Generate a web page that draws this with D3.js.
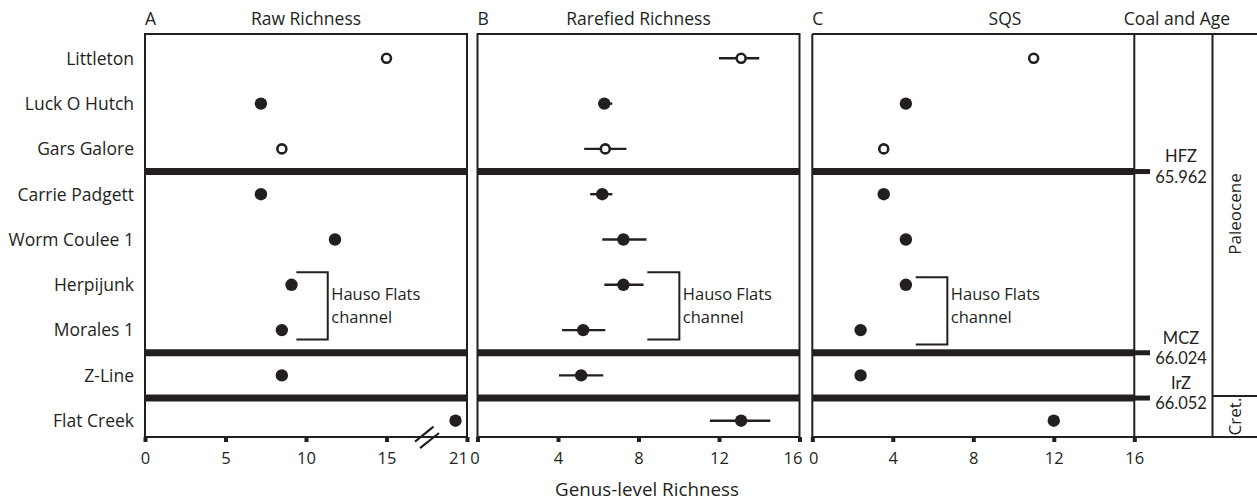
<!DOCTYPE html>
<html>
<head>
<meta charset="utf-8">
<script src="https://cdn.jsdelivr.net/npm/d3@7"></script>
<style>
  html, body { margin: 0; padding: 0; background: #fff; }
  svg { display: block; font-family: "Open Sans", sans-serif; }
</style>
</head>
<body>
<svg id="chart" width="1257" height="500"></svg>
<script>
// Localities, top (youngest) to bottom (oldest)
const sites = ["Littleton", "Luck O Hutch", "Gars Galore", "Carrie Padgett", "Worm Coulee 1",
               "Herpijunk", "Morales 1", "Z-Line", "Flat Creek"];
// Localities drawn with open symbols
const openSites = ["Littleton", "Gars Galore"];

// Genus-level richness per locality
const rawRichness   = [15, 7.2, 8.5, 7.2, 11.8, 9.1, 8.5, 8.5, 20];
const rarefiedMean  = [13.1, 6.3, 6.35, 6.2, 7.25, 7.25, 5.25, 5.15, 13.1];
const rarefiedLow   = [12.0, 6.0, 5.3, 5.6, 6.2, 6.3, 4.2, 4.05, 11.55];
const rarefiedHigh  = [14.0, 6.7, 7.4, 6.7, 8.4, 8.25, 6.35, 6.25, 14.55];
const sqsRichness   = [11.0, 4.65, 3.55, 3.55, 4.65, 4.65, 2.4, 2.4, 12.0];

// Axis ticks
const rawTicks  = [0, 5, 10, 15, 21];
const richTicks = [0, 4, 8, 12, 16];

// Coal zones (each lies just below the named locality) and their ages (Ma)
const zoneNames = ["HFZ", "MCZ", "IrZ"];
const zoneAges  = ["65.962", "66.024", "66.052"];
const zoneBelow = ["Gars Galore", "Morales 1", "Z-Line"];

// Epochs, split at the IrZ
const epochs = ["Paleocene", "Cret."];

// Hauso Flats channel bracket (localities grouped)
const channelSites = ["Herpijunk", "Morales 1"];
const channelLabel = ["Hauso Flats", "channel"];

const ink = "#231f20";
const svg = d3.select("#chart");
const frameTop = 34, frameBottom = 437;

const y = d3.scalePoint().domain(sites).range([58.3, 420.7]);
const sepY = zoneBelow.map(s => {
  const i = sites.indexOf(s);
  return (y(sites[i]) + y(sites[i + 1])) / 2;
});

// Raw axis is broken between 15 and 21
const uA = (467 - 145) / 20;
const xA = d3.scaleLinear().domain([0, 17.5, 21]).range([145, 145 + 17.5 * uA, 145 + 20 * uA]);
const xB = d3.scaleLinear().domain([0, 16]).range([477.5, 799.5]);
const xC = d3.scaleLinear().domain([0, 16]).range([812.3, 1134.3]);
const coalRight = 1212.5, figRight = 1258;

function frame(x0, x1) {
  svg.append("rect")
    .attr("x", x0).attr("y", frameTop).attr("width", x1 - x0).attr("height", frameBottom - frameTop)
    .attr("fill", "none").attr("stroke", ink).attr("stroke-width", 2);
}
function separators(x0, x1) {
  sepY.forEach(sy => {
    svg.append("line").attr("x1", x0).attr("x2", x1).attr("y1", sy).attr("y2", sy)
      .attr("stroke", ink).attr("stroke-width", 7);
  });
}
// shift: horizontal nudge for each tick label so edge labels clear the neighbouring panel
function axis(scale, ticks, shift) {
  const g = svg.append("g").attr("transform", `translate(0,${frameBottom})`)
    .call(d3.axisBottom(scale).tickValues(ticks).tickSize(5).tickSizeOuter(0).tickPadding(10));
  g.select(".domain").remove();
  g.selectAll(".tick line").attr("stroke", ink).attr("stroke-width", 4);
  g.selectAll(".tick text").attr("fill", ink).attr("font-size", 16.5)
    .attr("font-family", "'Open Sans', sans-serif")
    .attr("dx", (d, i) => shift ? shift[i] : 0);
  return g;
}
function markers(scale, values) {
  const g = svg.append("g");
  sites.forEach((s, i) => {
    const open = openSites.includes(s);
    g.append("circle")
      .attr("cx", scale(values[i])).attr("cy", y(s))
      .attr("r", open ? 4.5 : 6.2)
      .attr("fill", open ? "#fff" : ink)
      .attr("stroke", ink).attr("stroke-width", open ? 2.6 : 0);
  });
}
function bracket(scale, x0, x1, dy) {
  const yt = y(channelSites[0]) - 12.5 + dy, yb = y(channelSites[1]) + 9.3 + dy;
  const a = scale(x0), b = scale(x1);
  svg.append("path")
    .attr("d", `M${a},${yt}H${b}V${yb}H${a}`)
    .attr("fill", "none").attr("stroke", ink).attr("stroke-width", 2);
  const t = svg.append("text").attr("fill", ink).attr("font-size", 16.5);
  channelLabel.forEach((line, i) => {
    t.append("tspan").attr("x", b + 3.5).attr("y", 300 + i * 23).text(line);
  });
}
function title(letter, x0, name, cx) {
  svg.append("text").attr("x", x0).attr("y", 25).attr("fill", ink).attr("font-size", 17.5).text(letter);
  svg.append("text").attr("x", cx).attr("y", 25).attr("text-anchor", "middle")
    .attr("fill", ink).attr("font-size", 17.5).text(name);
}

// Panel A: raw richness
frame(xA(0), xA(21));
separators(xA(0), xA(21));
axis(xA, rawTicks, [0, 0, 0, 0, -9]);
markers(xA, rawRichness);
bracket(xA, 9.4, 11.35, 0);
title("A", xA(0), "Raw Richness", (xA(0) + xA(21)) / 2);
// axis break marks
[0, 1].forEach(k => {
  svg.append("line")
    .attr("x1", 415 + k * 5).attr("y1", 441.7 + k * 6.5)
    .attr("x2", 433.5 + k * 5.5).attr("y2", 426.7 + k * 6.3)
    .attr("stroke", ink).attr("stroke-width", 2.2);
});

// Row labels
svg.append("g").selectAll("text").data(sites).join("text")
  .attr("x", 134).attr("y", d => y(d)).attr("dy", "0.36em")
  .attr("text-anchor", "end").attr("fill", ink).attr("font-size", 17.5).text(d => d);

// Panel B: rarefied richness with intervals
frame(xB(0), xB(16));
separators(xB(0), xB(16));
axis(xB, richTicks, [-3, 0, 0, 0, -7]);
svg.append("g").selectAll("line").data(sites).join("line")
  .attr("x1", (d, i) => xB(rarefiedLow[i])).attr("x2", (d, i) => xB(rarefiedHigh[i]))
  .attr("y1", d => y(d)).attr("y2", d => y(d))
  .attr("stroke", ink).attr("stroke-width", 2.4);
markers(xB, rarefiedMean);
bracket(xB, 8.44, 10.03, 0);
title("B", xB(0), "Rarefied Richness", (xB(0) + xB(16)) / 2);

// Panel C: SQS, plus coal and age columns
svg.append("line").attr("x1", xC(0)).attr("x2", figRight).attr("y1", frameTop).attr("y2", frameTop)
  .attr("stroke", ink).attr("stroke-width", 2);
svg.append("line").attr("x1", xC(0)).attr("x2", figRight).attr("y1", frameBottom).attr("y2", frameBottom)
  .attr("stroke", ink).attr("stroke-width", 2);
[xC(0), xC(16), coalRight].forEach(xx => {
  svg.append("line").attr("x1", xx).attr("x2", xx).attr("y1", frameTop).attr("y2", frameBottom)
    .attr("stroke", ink).attr("stroke-width", 2);
});
separators(xC(0), xC(16));
axis(xC, richTicks, [1, 0, 0, 0, 0]);
markers(xC, sqsRichness);
bracket(xC, 5.14, 6.71, 5);
title("C", xC(0), "SQS", 1005);
svg.append("text").attr("x", 1177).attr("y", 25).attr("text-anchor", "middle")
  .attr("fill", ink).attr("font-size", 17.5).text("Coal and Age");

// Coal zones: tick, name and age (compact face so the stacked pair stays tight)
sepY.forEach((sy, i) => {
  svg.append("line").attr("x1", xC(16)).attr("x2", 1150).attr("y1", sy).attr("y2", sy)
    .attr("stroke", ink).attr("stroke-width", 5);
  svg.append("text").attr("x", 1181).attr("y", sy - 9.2).attr("text-anchor", "middle")
    .attr("font-family", "Lato, sans-serif")
    .attr("fill", ink).attr("font-size", 16.5).text(zoneNames[i]);
  svg.append("text").attr("x", 1181).attr("y", sy + 11.3).attr("text-anchor", "middle")
    .attr("font-family", "Lato, sans-serif")
    .attr("fill", ink).attr("font-size", 16.5).text(zoneAges[i]);
});

// Epoch column
const boundaryY = sepY[2] - 2;
svg.append("line").attr("x1", coalRight).attr("x2", figRight).attr("y1", boundaryY).attr("y2", boundaryY)
  .attr("stroke", ink).attr("stroke-width", 2);
const epochCx = (coalRight + 1257) / 2 + 0.5;
[[epochs[0], 214], [epochs[1], (boundaryY + frameBottom) / 2]].forEach(([name, cy]) => {
  svg.append("text")
    .attr("transform", `translate(${epochCx},${cy}) rotate(-90)`)
    .attr("text-anchor", "middle").attr("dy", "0.36em")
    .attr("fill", ink).attr("font-size", 17).text(name);
});

// Shared axis title
svg.append("text").attr("x", 647).attr("y", 495.5).attr("text-anchor", "middle")
  .attr("fill", ink).attr("font-size", 18.8).text("Genus-level Richness");
</script>
</body>
</html>
